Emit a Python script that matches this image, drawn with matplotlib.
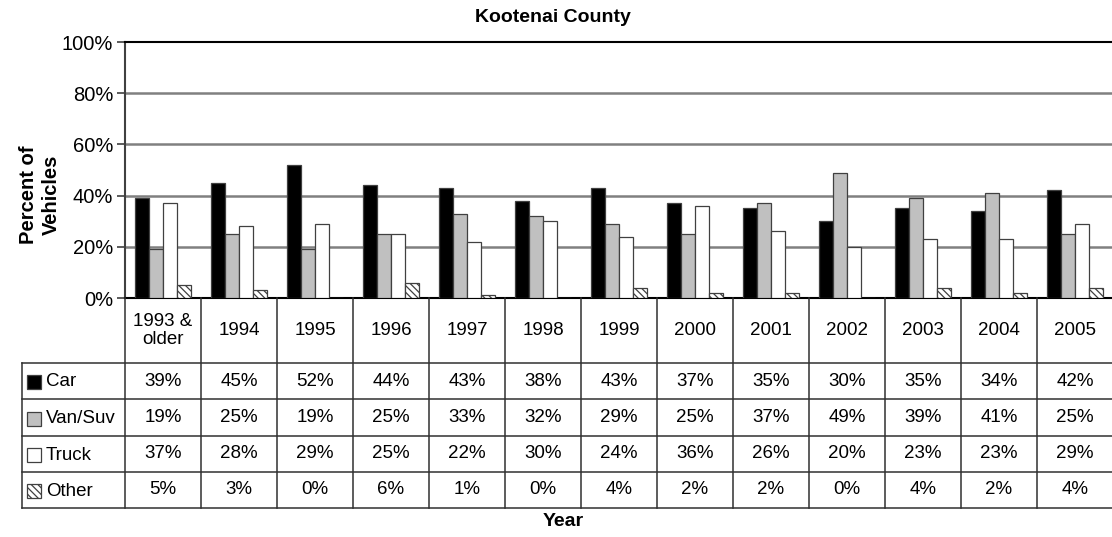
import numpy as np
import matplotlib
matplotlib.use("Agg")
import matplotlib.pyplot as plt
from matplotlib.patches import Rectangle

plt.rcParams["font.family"] = ["Liberation Sans", "DejaVu Sans"]
plt.rcParams["hatch.linewidth"] = 0.9

# ── Data ──────────────────────────────────────────────────────────
years = ["1993 &\nolder", "1994", "1995", "1996", "1997", "1998", "1999",
         "2000", "2001", "2002", "2003", "2004", "2005"]
car = [39, 45, 52, 44, 43, 38, 43, 37, 35, 30, 35, 34, 42]
van_suv = [19, 25, 19, 25, 33, 32, 29, 25, 37, 49, 39, 41, 25]
truck = [37, 28, 29, 25, 22, 30, 24, 36, 26, 20, 23, 23, 29]
other = [5, 3, 0, 6, 1, 0, 4, 2, 2, 0, 4, 2, 4]

series_names = ["Car", "Van/Suv", "Truck", "Other"]
series_vals = [car, van_suv, truck, other]
face = ["#000000", "#c0c0c0", "#ffffff", "#ffffff"]
hatches = [None, None, None, "\\\\\\\\\\"]
EDGE = "#404040"

W, H = 1112, 537
fig = plt.figure(figsize=(W / 100, H / 100), dpi=100)

# layout in pixels
x0, x1 = 125, 1113
y_top, y_zero = 42, 298
col_w = (x1 - x0) / len(years)
tbl_left = 22
rows_px = [0, 65, 101, 138, 174, 210]   # table row edges below the axis

ax = fig.add_axes([x0 / W, 1 - y_zero / H, (x1 - x0) / W, (y_zero - y_top) / H])
n = len(years)
x = np.arange(n)
bw = 0.184

for k, (vals, fc, hp) in enumerate(zip(series_vals, face, hatches)):
    offs = (k - 1.5) * bw
    ax.bar(x + offs, np.array(vals) / 100, width=bw, color=fc,
           edgecolor=EDGE, linewidth=0.9, hatch=hp, zorder=3)

ax.set_xlim(-0.5, n - 0.5)
ax.set_ylim(0, 1.0)
ax.set_yticks(np.arange(0, 1.01, 0.2))
ax.set_yticklabels([f"{int(v*100)}%" for v in np.arange(0, 1.01, 0.2)])
ax.set_xticks([])
ax.tick_params(axis="y", direction="out", length=6, width=1.2,
               color="#404040", pad=2.5, labelsize=14.5)
for yv in [0.2, 0.4, 0.6, 0.8]:
    ax.axhline(yv, color="#808080", linewidth=1.8, zorder=1)
ax.spines["right"].set_visible(False)
ax.spines["top"].set_color("black")
ax.spines["top"].set_linewidth(1.5)
ax.spines["bottom"].set_color("black")
ax.spines["bottom"].set_linewidth(1.5)
ax.spines["left"].set_color("#404040")
ax.spines["left"].set_linewidth(1.5)

ax.set_ylabel("Percent of\nVehicles", fontsize=14.5, fontweight="bold",
              linespacing=1.25)
ax.yaxis.set_label_coords(-(x0 - 61) / (x1 - x0), (y_zero - 195) / (y_zero - y_top))

fig.text(553 / W, 1 - 17 / H, "Kootenai County", ha="center", va="center",
         fontsize=14, fontweight="bold")
fig.text(563 / W, 1 - 521 / H, "Year", ha="center", va="center",
         fontsize=14, fontweight="bold")

# ── Data table under the chart ────────────────────────────────────
tb = fig.add_axes([tbl_left / W, 1 - (y_zero + rows_px[-1]) / H,
                   (x1 - tbl_left) / W, rows_px[-1] / H])
left_u = -0.5 - (x0 - tbl_left) / col_w
tb.set_xlim(left_u, n - 0.5)
tb.set_ylim(rows_px[-1], 0)
tb.axis("off")

LC = "#303030"
lw = 1.1
# horizontal row lines
for r in rows_px[1:]:
    tb.plot([left_u, n - 0.5], [r, r], color=LC, lw=lw, clip_on=False)
# column separators
for i in range(n + 1):
    xv = i - 0.5
    tb.plot([xv, xv], [0, rows_px[-1]], color=LC, lw=lw, clip_on=False)
tb.plot([left_u, left_u], [rows_px[1], rows_px[-1]], color=LC, lw=lw, clip_on=False)

# header with year labels
for i, yl in enumerate(years):
    tb.text(i, (rows_px[0] + rows_px[1]) / 2, yl, ha="center", va="center",
            fontsize=13.5, linespacing=1.1)

sq = 14
for k, (name, vals) in enumerate(zip(series_names, series_vals)):
    ymid = (rows_px[k + 1] + rows_px[k + 2]) / 2
    tb.add_patch(Rectangle((left_u + 5 / col_w, ymid - sq / 2 + 1), sq / col_w, sq,
                           facecolor=face[k], edgecolor=EDGE, linewidth=0.9,
                           hatch=hatches[k], clip_on=False))
    tb.text(left_u + 24 / col_w, ymid + 1, name, ha="left", va="center",
            fontsize=13.5)
    for i, v in enumerate(vals):
        tb.text(i, ymid, f"{v}%", ha="center", va="center", fontsize=13.5)

fig.savefig("out.png", dpi=100)
